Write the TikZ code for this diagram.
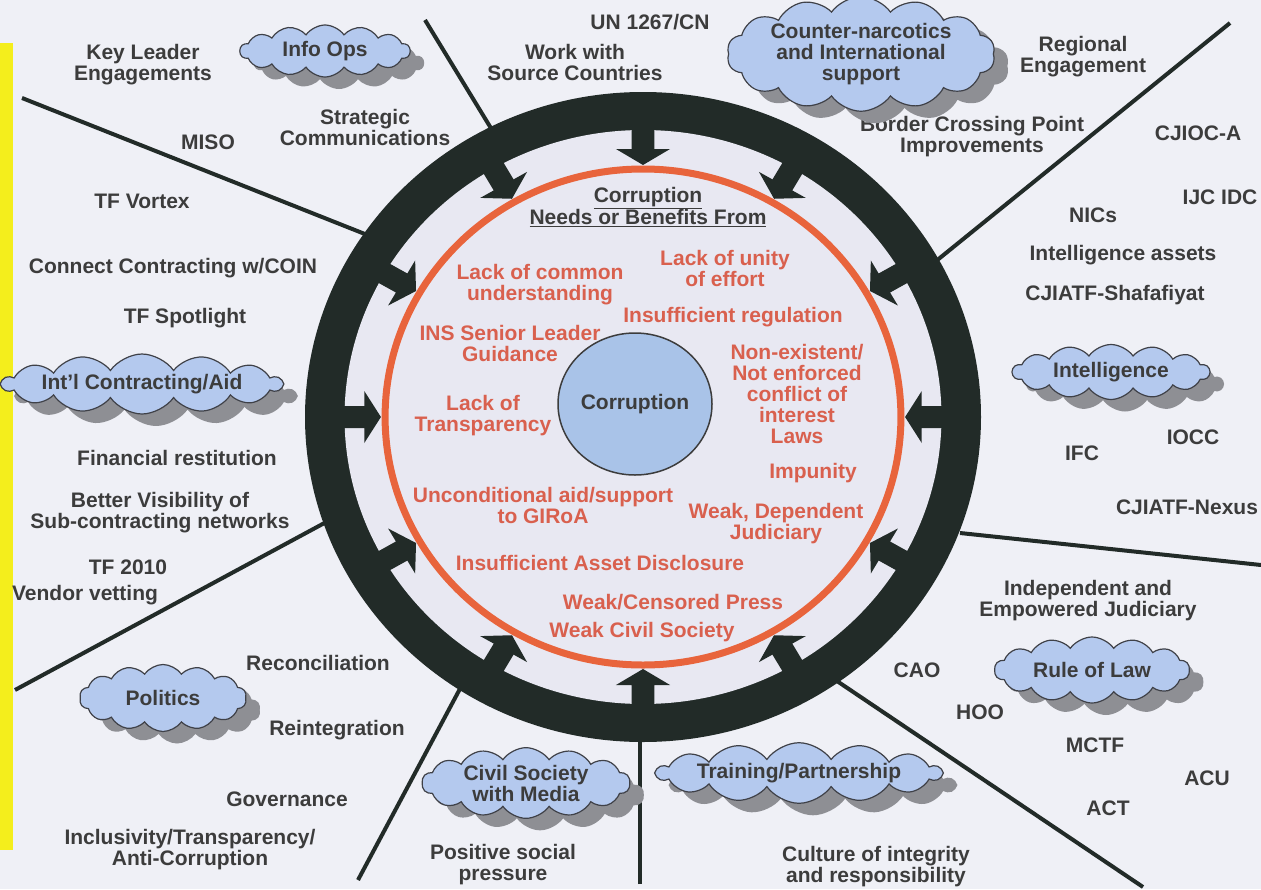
\documentclass[tikz,border=0pt]{standalone}
\usepackage{fontspec}
\setmainfont{Liberation Sans}
\usetikzlibrary{shapes.symbols,shapes.geometric,shadows}
\definecolor{bgc}{HTML}{EFF0F6}
\definecolor{innerc}{HTML}{E8E8F2}
\definecolor{ringc}{HTML}{222B28}
\definecolor{orangec}{HTML}{E8643C}
\definecolor{redtxt}{HTML}{D9604E}
\definecolor{graytxt}{HTML}{3C3C3C}
\definecolor{cloudc}{HTML}{B4C9EE}
\definecolor{cloudline}{HTML}{3F4148}
\definecolor{shadowc}{HTML}{8E8F94}
\definecolor{corec}{HTML}{A9C3E8}
\definecolor{yellowc}{HTML}{F4EE1C}
\begin{document}
\begin{tikzpicture}[x=1pt,y=-1pt,
  lbl/.style={font=\bfseries\fontsize{21}{21}\selectfont, text=graytxt, align=center, inner sep=0pt},
  rlbl/.style={lbl, text=redtxt},
  cloudbox/.style={cloud, cloud puffs=14, cloud puff arc=110, cloud ignores aspect,
    draw=cloudline, line width=1.2pt, fill=cloudc, inner sep=0pt,
    font=\bfseries\fontsize{21}{21}\selectfont, text=graytxt, align=center,
    drop shadow={shadow xshift=14pt, shadow yshift=-12pt, fill=shadowc, opacity=1}},
  spoke/.style={draw=ringc, line width=4pt},
  inarrow/.style={fill=ringc},
  corebox/.style={ellipse, draw=graytxt, line width=1.5pt, fill=corec, inner sep=0pt,
    font=\bfseries\fontsize{21}{21}\selectfont, text=graytxt}
]
\useasboundingbox (0,0) rectangle (1261,889);
\fill[bgc] (0,0) rectangle (1261,889);
\fill[yellowc] (0,43) rectangle (13,850);
% spokes
\coordinate (s1a) at (425,20);   \coordinate (s1b) at (500,143);
\coordinate (s2a) at (22,98);    \coordinate (s2b) at (380,240);
\coordinate (s3a) at (1230,23);  \coordinate (s3b) at (925,270);
\coordinate (s4a) at (15,690);   \coordinate (s4b) at (330,520);
\coordinate (s5a) at (960,533);  \coordinate (s5b) at (1261,565);
\coordinate (s6a) at (358,880);  \coordinate (s6b) at (462,685);
\coordinate (s7a) at (640,884);  \coordinate (s7b) at (640,730);
\coordinate (s8a) at (1143,887); \coordinate (s8b) at (828,675);
\foreach \i in {1,...,8} {\draw[spoke] (s\i a) -- (s\i b);}
% ring
\begin{scope}[shift={(643,417)}, xscale=1.04]
  \fill[ringc] (0,0) circle[radius=325pt];
  \fill[innerc] (0,0) circle[radius=287pt];
  \foreach \a in {0,30,...,330} {
    \fill[inarrow, rotate=\a] (295,11) -- (268,11) -- (268,26) -- (252,0) -- (268,-26) -- (268,-11) -- (295,-11) -- cycle;
  }
  \draw[orangec, line width=7pt] (0,0) circle[radius=248pt];
\end{scope}
\node[corebox, minimum width=154pt, minimum height=142pt] (core) at (635,404) {Corruption};
% inner labels
\node[lbl] (head) at (648,207) {\underline{Corruption}\\\underline{Needs or Benefits From}};
\node[rlbl] (r1) at (725,268) {Lack of unity\\of effort};
\node[rlbl] (r2) at (540,285) {Lack of common\\understanding};
\node[rlbl] (r3) at (733,317) {Insufficient regulation};
\node[rlbl] (r4) at (510,343) {INS Senior Leader\\Guidance};
\node[rlbl] (r5) at (797,394) {Non-existent/\\Not enforced\\conflict of\\interest\\Laws};
\node[rlbl] (r6) at (483,416) {Lack of\\Transparency};
\node[rlbl] (r7) at (813,473) {Impunity};
\node[rlbl] (r8) at (543,505) {Unconditional aid/support\\to GIRoA};
\node[rlbl] (r9) at (776,524) {Weak, Dependent\\Judiciary};
\node[rlbl] (r10) at (600,563) {Insufficient Asset Disclosure};
\node[rlbl] (r11) at (673,602) {Weak/Censored Press};
\node[rlbl] (r12) at (642,632) {Weak Civil Society};
% outer labels
\node[lbl] (kle) at (143,65) {Key Leader\\Engagements};
\node[lbl] (miso) at (208,142) {MISO};
\node[lbl] (stratc) at (365,127) {Strategic\\Communications};
\node[lbl] (tfv) at (142,201) {TF Vortex};
\node[lbl] (ccc) at (173,268) {Connect Contracting w/COIN};
\node[lbl] (tfs) at (185,318) {TF Spotlight};
\node[lbl] (finr) at (177,458) {Financial restitution};
\node[lbl] (bvs) at (160,513) {Better Visibility of\\Sub-contracting networks};
\node[lbl] (tf2010) at (128,567) {TF 2010};
\node[lbl] (vend) at (85,595) {Vendor vetting};
\node[lbl] (recon) at (318,663) {Reconciliation};
\node[lbl] (reint) at (337,730) {Reintegration};
\node[lbl] (gov) at (287,799) {Governance};
\node[lbl] (incl) at (190,850) {Inclusivity/Transparency/\\Anti-Corruption};
\node[lbl] (pos) at (503,865) {Positive social\\pressure};
\node[lbl] (cult) at (876,867) {Culture of integrity\\and responsibility};
\node[lbl] (indep) at (1088,601) {Independent and\\Empowered Judiciary};
\node[lbl] (cao) at (917,670) {CAO};
\node[lbl] (hoo) at (980,712) {HOO};
\node[lbl] (mctf) at (1095,745) {MCTF};
\node[lbl] (acu) at (1207,778) {ACU};
\node[lbl] (act) at (1108,808) {ACT};
\node[lbl] (ifc) at (1082,453) {IFC};
\node[lbl] (iocc) at (1193,437) {IOCC};
\node[lbl] (nexus) at (1187,507) {CJIATF-Nexus};
\node[lbl] (shaf) at (1115,295) {CJIATF-Shafafiyat};
\node[lbl] (intas) at (1123,255) {Intelligence assets};
\node[lbl] (nics) at (1093,215) {NICs};
\node[lbl] (ijc) at (1220,197) {IJC IDC};
\node[lbl] (cjioc) at (1198,133) {CJIOC-A};
\node[lbl] (bcp) at (972,137) {Border Crossing Point\\Improvements};
\node[lbl] (reg) at (1083,57) {Regional\\Engagement};
\node[lbl] (un) at (650,22) {UN 1267/CN};
\node[lbl] (work) at (575,62) {Work with\\Source Countries};
% clouds
\node[cloudbox, minimum width=170pt, minimum height=52pt] (cinfo) at (325,51) {Info Ops};
\node[cloudbox, minimum width=268pt, minimum height=92pt] (ccn) at (861,54) {Counter-narcotics\\and International\\support};
\node[cloudbox, minimum width=197pt, minimum height=55pt] (cintel) at (1111,372) {Intelligence};
\node[cloudbox, minimum width=255pt, minimum height=40pt] (ccontr) at (142,384) {Int'l Contracting/Aid};
\node[cloudbox, minimum width=167pt, minimum height=67pt] (cpol) at (163,698) {Politics};
\node[cloudbox, minimum width=208pt, minimum height=67pt] (cciv) at (526,783) {Civil Society\\with Media};
\node[cloudbox, minimum width=262pt, minimum height=53pt] (ctrain) at (799,773) {Training/Partnership};
\node[cloudbox, minimum width=195pt, minimum height=66pt] (crol) at (1092,670) {Rule of Law};
\end{tikzpicture}
\end{document}
